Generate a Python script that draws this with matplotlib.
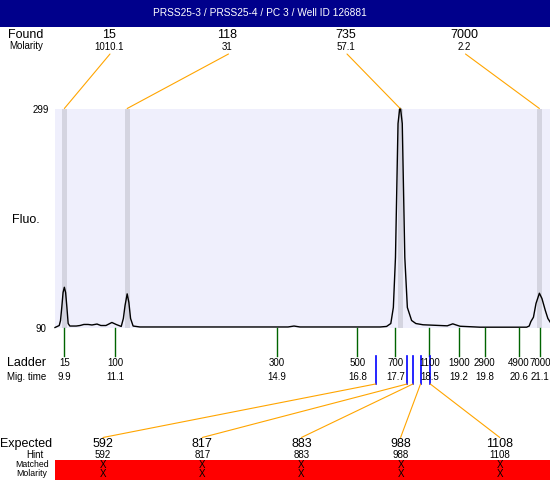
import matplotlib
matplotlib.use('Agg')
import matplotlib.pyplot as plt
import matplotlib.transforms as mtransforms
from matplotlib.patches import Rectangle, ConnectionPatch

# data
title = 'PRSS25-3 / PRSS25-4 / PC 3 / Well ID 126881'
found_size = [15, 118, 735, 7000]
found_molarity = ['1010.1', '31', '57.1', '2.2']
found_time = [9.9, 11.38, 17.81, 21.09]

ladder_size = [15, 100, 300, 500, 700, 1100, 1900, 2900, 4900, 7000]
ladder_time = [9.9, 11.1, 14.9, 16.8, 17.7, 18.5, 19.2, 19.8, 20.6, 21.1]

expected_size = [592, 817, 883, 988, 1108]
hint_size = [592, 817, 883, 988, 1108]
expected_time = [17.23, 17.97, 18.11, 18.29, 18.52]

fluo_min, fluo_max = 90, 299

trace_time = [9.68, 9.78, 9.81, 9.84, 9.87, 9.90, 9.93, 9.96, 9.99, 10.03,
              10.18, 10.27, 10.36, 10.46, 10.55, 10.67, 10.76, 10.88, 11.02, 11.12,
              11.24, 11.29, 11.33, 11.38, 11.42, 11.46, 11.52, 11.68, 13.10, 14.51,
              15.17, 15.31, 15.45, 17.34, 17.49, 17.59, 17.65, 17.70, 17.73, 17.76,
              17.80, 17.82, 17.86, 17.89, 17.92, 17.98, 18.08, 18.18, 18.35, 18.92,
              19.05, 19.13, 19.22, 19.69, 20.79, 20.85, 20.89, 20.95, 21.01, 21.09,
              21.15, 21.23, 21.29, 21.35]
trace_fluo = [90.0, 91.9, 96.7, 109.4, 123.4, 128.4, 123.4, 109.4, 93.8, 91.4,
              91.4, 91.9, 92.9, 92.9, 92.4, 93.3, 91.9, 91.9, 94.8, 92.9,
              91.0, 98.6, 111.0, 122.1, 113.9, 98.6, 91.4, 90.5, 90.5, 90.5,
              90.5, 91.4, 90.5, 90.5, 91.0, 93.8, 109.1, 156.8, 220.7, 284.6,
              299.0, 299.0, 284.6, 220.7, 156.8, 109.1, 96.7, 93.8, 92.6, 91.6,
              93.5, 92.4, 91.2, 90.3, 90.3, 91.4, 95.7, 99.8, 112.9, 122.7,
              117.7, 106.2, 98.6, 94.8]

W, H = 550, 480
plt.rcParams['font.family'] = ['Liberation Sans', 'DejaVu Sans']
fig = plt.figure(figsize=(5.5, 4.8), dpi=100)

# pixel coordinates, origin top-left
px = mtransforms.Affine2D().scale(1 / W, -1 / H).translate(0, 1) + fig.transFigure

def txt(x, y, s, size, ha='center', color='black'):
    fig.text(x, y, s, transform=px, fontsize=size, ha=ha, va='center', color=color)

# header bar
fig.add_artist(Rectangle((0, 0), W, 26.5, transform=px, color='#00008b', lw=0))
txt(260, 13.5, title, 7.3, color='white')

# main trace
ax = fig.add_axes([55 / W, 1 - 327.5 / H, 495 / W, 219 / H])
ax.set_facecolor('#efeffc')
for s in ax.spines.values():
    s.set_visible(False)
ax.set_xticks([])
ax.set_yticks([])
for t in found_time:
    ax.axvspan(t - 0.06, t + 0.06, color='#d4d4e0', lw=0)
ax.plot(trace_time, trace_fluo, color='black', lw=1.0, clip_on=False)
ax.set_xlim(9.68, 21.34)
ax.set_ylim(fluo_min, fluo_max)

txt(40.7, 110, str(fluo_max), 7)
txt(40.7, 329.5, str(fluo_min), 7)
txt(26, 220, 'Fluo.', 9)

xpx = mtransforms.blended_transform_factory(ax.transData, px)

# found peaks
txt(8, 34.5, 'Found', 9, ha='left')
txt(9, 46, 'Molarity', 7, ha='left')
for i, (sz, mol, t) in enumerate(zip(found_size, found_molarity, found_time)):
    lx = 109 + 118.5 * i
    txt(lx, 34.5, str(sz), 9)
    txt(lx, 47, mol, 7)
    fig.add_artist(ConnectionPatch(xyA=(lx + 1, 54), coordsA=px,
                                   xyB=(t, fluo_max), coordsB=ax.transData,
                                   color='#ffa500', lw=0.8))

# ladder
txt(46, 363, 'Ladder', 9, ha='right')
txt(46, 377, 'Mig. time', 7, ha='right')
for sz, t in zip(ladder_size, ladder_time):
    ax.plot([t, t], [327.5, 356], transform=xpx, color='#006400', lw=1.0, clip_on=False)
    fig.text(t, 363, str(sz), transform=xpx, fontsize=7, ha='center', va='center')
    fig.text(t, 377, str(t), transform=xpx, fontsize=7, ha='center', va='center')

# expected fragments
txt(0, 444, 'Expected', 9, ha='left')
txt(35, 455, 'Hint', 7)
txt(32, 464.5, 'Matched', 6.3)
txt(32, 474, 'Molarity', 6.3)
fig.add_artist(Rectangle((55, 460), 495, 20, transform=px, color='#ff0000', lw=0))
for i, (sz, hs, t) in enumerate(zip(expected_size, hint_size, expected_time)):
    ex = 103 + 99.2 * i
    ax.plot([t, t], [356, 384], transform=xpx, color='#0000ff', lw=1.2, clip_on=False)
    fig.add_artist(ConnectionPatch(xyA=(t, 384), coordsA=xpx,
                                   xyB=(ex, 437.5), coordsB=px,
                                   color='#ffa500', lw=0.8))
    txt(ex, 444, str(sz), 9)
    txt(ex, 455, str(hs), 7)
    txt(ex, 465, 'X', 7)
    txt(ex, 474, 'X', 7)

fig.savefig('out.png', dpi=100)
